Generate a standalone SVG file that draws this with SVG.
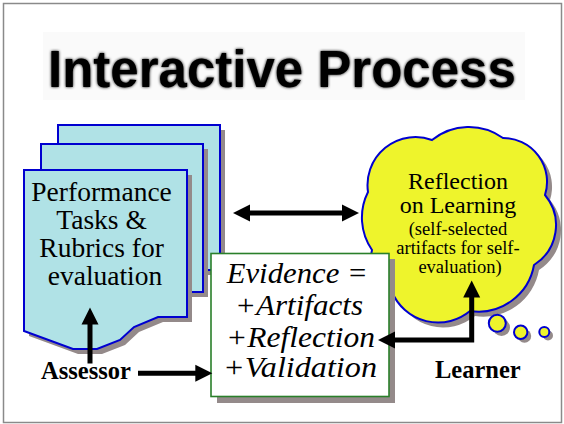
<svg xmlns="http://www.w3.org/2000/svg" width="564" height="424" viewBox="0 0 564 424">
<style>
.page{fill:#b0e2e6;stroke:#0000d0;stroke-width:2}
.shadow{fill:#948a8a;stroke:none}
.cloud{fill:#eef42c;stroke:#0000d0;stroke-width:2}
.ev{fill:#ffffff;stroke:#2a7f2a;stroke-width:1.6}
text{font-family:'Liberation Serif','Times New Roman',Times,serif;fill:#000}
.evt{font-style:italic;font-size:29px}
.lbl{font-weight:bold;font-size:24.5px}
.conn{fill:none;stroke:#000;stroke-width:5;stroke-linejoin:miter}
</style>
<defs>
<marker id="ah" markerUnits="userSpaceOnUse" markerWidth="18" markerHeight="18" refX="8" refY="8.5" orient="auto-start-reverse" overflow="visible">
<path d="M0,0 L17,8.5 L0,17 Z" fill="#000"/>
</marker>
<filter id="soft" x="-5%" y="-20%" width="110%" height="140%">
<feGaussianBlur in="SourceAlpha" stdDeviation="1.6" result="b"/>
<feMerge><feMergeNode in="b"/><feMergeNode in="SourceGraphic"/></feMerge>
</filter>
</defs>
<rect x="3.5" y="3.5" width="558" height="419" fill="#ffffff" stroke="#8a8a8a" stroke-width="1.5"/>
<g id="title">
<rect x="43" y="32" width="482" height="68" fill="#fafafa"/>
<text x="48" y="86.5" style="font-family:'Liberation Sans',Arial,sans-serif" font-weight="bold" font-size="51" filter="url(#soft)">Interactive Process</text>
</g>
<g id="tasks">
<rect class="shadow" x="63" y="130" width="162" height="145"/>
<rect class="page" x="58" y="125" width="162" height="145"/>
<rect class="shadow" x="46" y="149" width="162" height="148"/>
<rect class="page" x="41" y="144" width="162" height="148"/>
<path class="shadow" transform="translate(5,5)" d="M24,170 H187 V317 H158 L134,327 L120,340 L97,349 H73 L24,331 Z"/>
<path class="page" d="M24,170 H187 V317 H158 L134,327 L120,340 L97,349 H73 L24,331 Z"/>
<text font-size="27.5" text-anchor="middle">
<tspan x="105" y="200.5">Performance</tspan>
<tspan x="105" y="228.5">Tasks &amp;</tspan>
<tspan x="105" y="256.5">Rubrics for</tspan>
<tspan x="105" y="284.5">evaluation</tspan>
</text>
</g>
<g id="reflection">
<path class="shadow" transform="translate(5,5)" d="M368,192 A48,48 0 0 1 432,140 A58.5,58.5 0 0 1 503,138 A43.8,43.8 0 0 1 545,195 A47,47 0 0 1 534,265 A56.5,56.5 0 0 1 470,311 A50,50 0 0 1 392,292 A37.8,37.8 0 0 1 372,250 A57,57 0 0 1 368,192 Z"/>
<path class="cloud" d="M368,192 A48,48 0 0 1 432,140 A58.5,58.5 0 0 1 503,138 A43.8,43.8 0 0 1 545,195 A47,47 0 0 1 534,265 A56.5,56.5 0 0 1 470,311 A50,50 0 0 1 392,292 A37.8,37.8 0 0 1 372,250 A57,57 0 0 1 368,192 Z"/>
<circle class="shadow" cx="501.5" cy="327.5" r="8.5"/>
<circle class="shadow" cx="524.5" cy="336" r="6.7"/>
<circle class="shadow" cx="548" cy="335.5" r="5"/>
<circle class="cloud" cx="497.3" cy="323.3" r="8.5"/>
<circle class="cloud" cx="520.7" cy="332.3" r="6.7"/>
<circle class="cloud" cx="544.3" cy="332" r="5"/>
<text text-anchor="middle">
<tspan x="460" y="188.5" font-size="24">Reflection</tspan>
<tspan x="460" y="213" font-size="24">on Learning</tspan>
<tspan x="460" y="235" font-size="18.5">(self-selected</tspan>
<tspan x="460" y="254" font-size="18.5">artifacts for self-</tspan>
<tspan x="460" y="273" font-size="18.5">evaluation)</tspan>
</text>
</g>
<g id="evidence">
<rect class="shadow" x="217" y="259" width="178" height="144"/>
<rect class="ev" x="211" y="253.5" width="178" height="143"/>
<text class="evt" x="226.7" y="283.3" textLength="141" lengthAdjust="spacingAndGlyphs">Evidence =</text>
<text class="evt" x="235" y="315" textLength="128" lengthAdjust="spacingAndGlyphs">+Artifacts</text>
<text class="evt" x="226" y="346.5" textLength="149" lengthAdjust="spacingAndGlyphs">+Reflection</text>
<text class="evt" x="223" y="377" textLength="154" lengthAdjust="spacingAndGlyphs">+Validation</text>
</g>
<g id="assessor">
<text class="lbl" x="41" y="378.5">Assessor</text>
</g>
<g id="learner">
<text class="lbl" x="435" y="377.5">Learner</text>
</g>
<g id="connectors">
<path class="conn" d="M242,213 H350" marker-start="url(#ah)" marker-end="url(#ah)"/>
<path class="conn" d="M90,363.5 V316.5" marker-end="url(#ah)"/>
<path class="conn" d="M138,373.3 H203.3" marker-end="url(#ah)"/>
<path class="conn" d="M471.7,289.5 V340 H387" marker-start="url(#ah)" marker-end="url(#ah)"/>
</g>
</svg>
